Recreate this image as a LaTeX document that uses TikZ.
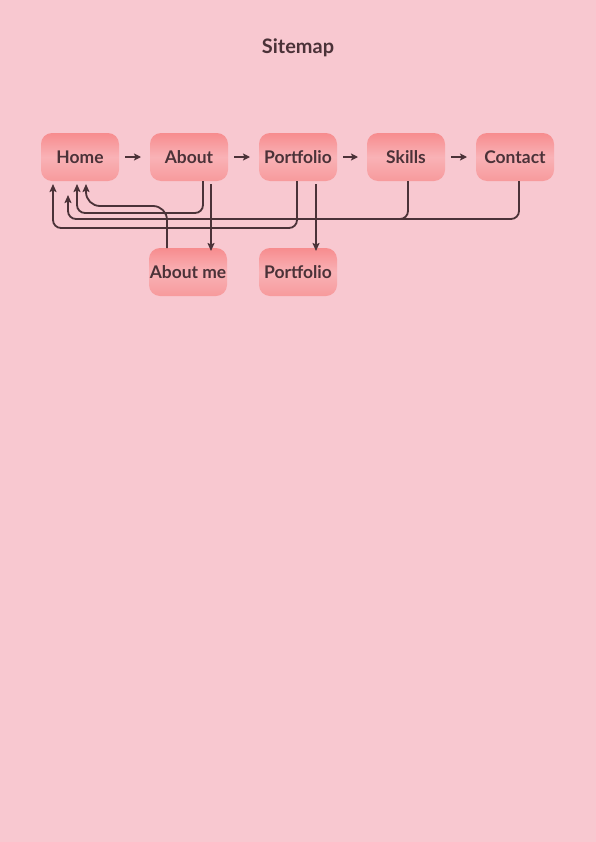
\documentclass[tikz,border=0pt]{standalone}
\usepackage{fontspec}
\setmainfont{Lato}
\usetikzlibrary{arrows.meta}
\definecolor{bg}{HTML}{F8C8D0}
\definecolor{ink}{HTML}{4B3238}
\definecolor{ntop}{HTML}{F78C8E}
\definecolor{nmid}{HTML}{F9B2B6}
\definecolor{nbot}{HTML}{F79A9C}
\tikzset{
  page/.style={x=1bp,y=-1bp},
  pagebox/.style={inner sep=0pt, outer sep=0pt, minimum width=78bp, minimum height=48bp,
    rounded corners=11bp, top color=ntop, bottom color=nbot, middle color=nmid,
    text=ink, font=\fontsize{17.5}{20}\selectfont\bfseries},
  flow/.style={draw=ink, line width=2.2bp, -{Stealth[length=7bp,width=7bp,inset=1.5bp]}, shorten <=6bp, shorten >=9bp},
  link/.style={draw=ink, line width=1.8bp, -{Stealth[length=8bp,width=7bp,inset=1.5bp]}, rounded corners=8bp},
  plainlink/.style={draw=ink, line width=1.8bp, rounded corners=8bp},
}
\begin{document}
\begin{tikzpicture}[page]
\fill[bg] (0,0) rectangle (596,842);
\useasboundingbox (0,0) rectangle (596,842);
\node[text=ink, font=\fontsize{20}{24}\selectfont\bfseries] (title) at (298,48) {Sitemap};
\node[pagebox] (home) at (80,157) {Home};
\node[pagebox] (about) at (189,157) {About};
\node[pagebox] (port) at (298,157) {Portfolio};
\node[pagebox] (skills) at (406,157) {Skills};
\node[pagebox] (contact) at (515,157) {Contact};
\node[pagebox] (aboutme) at (188,272) {About me};
\node[pagebox] (port2) at (298,272) {Portfolio};
\draw[flow] (home) -- (about);
\draw[flow] (about) -- (port);
\draw[flow] (port) -- (skills);
\draw[flow] (skills) -- (contact);
\coordinate (hb1) at (53,184);
\coordinate (hb2) at (68,195);
\coordinate (hb3) at (77,184);
\coordinate (hb4) at (86,184);
\draw[link] (about.south -| 203,0) -- (203,213) -- (77,213) -- (hb3);
\draw[link] (about.south -| 211,0) ++(0,3) -- ([yshift=-3bp]aboutme.north -| 211,0);
\draw[link] (port.south -| 316,0) ++(0,3) -- ([yshift=-3bp]port2.north -| 316,0);
\draw[link] (port.south -| 297,0) -- (297,228) -- (53,228) -- (hb1);
\draw[link] (skills.south -| 408,0) -- (408,219) -- (68,219) -- (hb2);
\draw[plainlink] (contact.south -| 519,0) -- (519,219) -- (400,219);
\draw[link, rounded corners=14bp] (aboutme.north -| 167,0) -- (167,206) -- (86,206) -- (hb4);
\end{tikzpicture}
\end{document}
